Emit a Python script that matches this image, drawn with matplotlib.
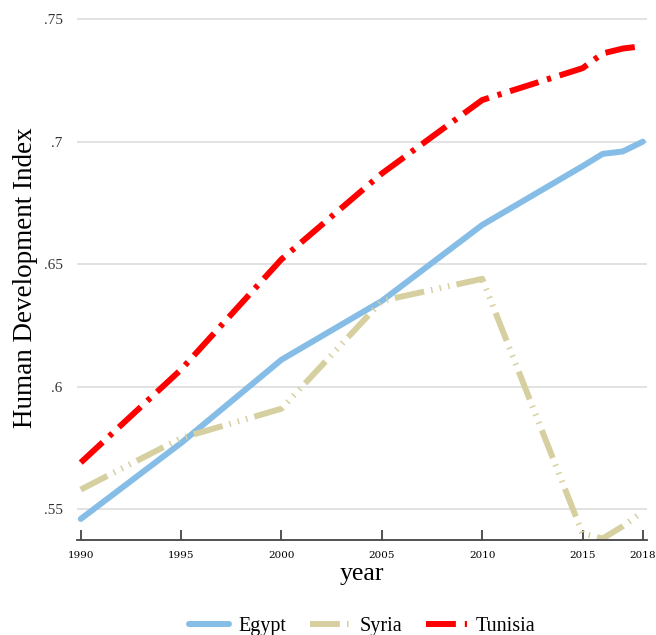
import matplotlib
matplotlib.use("Agg")
import matplotlib.pyplot as plt

years = [1990, 1995, 2000, 2005, 2010, 2015, 2016, 2017, 2018]
egypt = [0.546, 0.577, 0.611, 0.635, 0.666, 0.690, 0.695, 0.696, 0.700]
syria = [0.558, 0.579, 0.591, 0.635, 0.644, 0.540, 0.538, 0.543, 0.549]
tunisia = [0.569, 0.607, 0.652, 0.687, 0.717, 0.730, 0.736, 0.738, 0.739]
xticks = [1990, 1995, 2000, 2005, 2010, 2015, 2018]
yticks = [0.55, 0.6, 0.65, 0.7, 0.75]
yticklabels = [".55", ".6", ".65", ".7", ".75"]

plt.rcParams['font.family'] = ['Liberation Serif', 'DejaVu Serif']

fig = plt.figure(figsize=(6.56, 6.35), dpi=100)
ax = fig.add_axes([0.117, 0.1496, 0.869, 0.8264])

ax.plot(years, egypt, color='#85BDE6', lw=4.3, solid_capstyle='round', label='Egypt')
ax.plot(years, syria, color='#D6CF9F', lw=4.3, dash_capstyle='butt',
        linestyle=(0, (5, 1.2, 0.25, 1.2, 0.25, 1.2, 0.25, 1.2)), label='Syria')
ax.plot(years, tunisia, color='#FF0000', lw=4.3, dash_capstyle='butt',
        linestyle=(0, (5, 1.5, 0.7, 1.5)), label='Tunisia')

ax.set_xlim(1989.8, 2018.2)
ax.set_ylim(0.5374, 0.7516)
ax.set_xticks(xticks)
ax.set_xticklabels([str(x) for x in xticks], fontsize=7.5, family=['DejaVu Serif'])
ax.set_yticks(yticks)
ax.set_yticklabels(yticklabels, fontsize=11)
ax.yaxis.grid(True, color='#DDDDDD', lw=1.2)
ax.set_axisbelow(True)
for s in ['top', 'right', 'left']:
    ax.spines[s].set_visible(False)
ax.spines['bottom'].set_color('#444444')
ax.spines['bottom'].set_linewidth(1.3)
ax.tick_params(axis='x', direction='in', length=7, width=1.3, color='#444444', pad=8)
ax.tick_params(axis='y', length=0, pad=10, colors='#333333')
ax.set_ylabel('Human Development Index', fontsize=19.5, labelpad=4)
ax.set_xlabel('year', fontsize=18.5, labelpad=2)

leg = fig.legend(loc='center', bbox_to_anchor=(0.552, 1 - 626 / 635), ncol=3, frameon=False,
                 fontsize=14.5, handlelength=2.0, columnspacing=1.2, handletextpad=0.45)

fig.savefig('out.png', dpi=100)
